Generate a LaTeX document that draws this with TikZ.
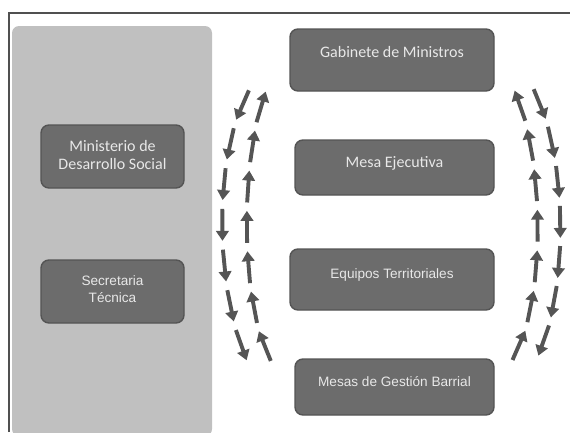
\documentclass[tikz,border=0pt]{standalone}
\usepackage{fontspec}
\setmainfont{Carlito}
\newfontfamily\arialfont{Liberation Sans}
\usetikzlibrary{arrows.meta,decorations.markings}
\definecolor{panelgray}{RGB}{192,192,192}
\definecolor{boxgray}{RGB}{108,108,108}
\definecolor{boxedge}{RGB}{84,84,84}
\definecolor{boxtxt}{RGB}{232,232,232}
\definecolor{arrgray}{RGB}{85,85,85}
\definecolor{framegray}{RGB}{80,80,80}
\tikzset{
  orgbox/.style={draw=boxedge, line width=1.4pt, fill=boxgray, rounded corners=8pt, inner sep=0pt},
  calibtext/.style={text=boxtxt, font=\fontsize{16}{18}\selectfont, align=center, inner sep=0pt},
  arialtext/.style={text=boxtxt, font=\arialfont\fontsize{13.6}{17}\selectfont, align=center, inner sep=0pt},
  flowarrow/.style={draw=arrgray, line width=3.9pt, -{Triangle[width=12.5pt,length=10pt]}},
  arrowtrain/.style={postaction={decorate}, decoration={markings,
     mark=between positions 0.0714 and 0.96 step 0.142857 with {\draw[flowarrow] (-16,0) -- (16,0);}}}
}
\begin{document}
\begin{tikzpicture}[x=1pt,y=-1pt]
\useasboundingbox (0,0) rectangle (570,432);
% frame
\draw[framegray, line width=2pt] (9,432) -- (9,12.5) -- (571,12.5);
% left panel
\fill[panelgray, rounded corners=7pt] (12,26) rectangle (212,436);
% boxes
\node[orgbox, minimum width=143pt, minimum height=63pt] (min) at (112.5,156.5) {};
\node[calibtext] (mintxt) at ([yshift=2pt]min.center) {Ministerio de\\Desarrollo Social};
\node[orgbox, minimum width=143pt, minimum height=63pt] (sec) at (112.5,291.5) {};
\node[arialtext] (sectxt) at ([yshift=2pt]sec.center) {Secretaria\\Técnica};
\node[orgbox, minimum width=204pt, minimum height=62pt] (gab) at (392,60) {};
\node[calibtext] (gabtxt) at ([yshift=8pt]gab.center) {Gabinete de Ministros};
\node[orgbox, minimum width=199pt, minimum height=55pt] (mesa) at (394.5,167.5) {};
\node[calibtext] (mesatxt) at ([yshift=4pt]mesa.center) {Mesa Ejecutiva};
\node[orgbox, minimum width=204pt, minimum height=61pt] (equ) at (392,279.5) {};
\node[arialtext] (equtxt) at ([yshift=5pt]equ.center) {Equipos Territoriales};
\node[orgbox, minimum width=199pt, minimum height=56pt] (mgb) at (394.5,387) {};
\node[arialtext] (mgbtxt) at ([yshift=5pt]mgb.center) {Mesas de Gestión Barrial};
% arrow trains
\coordinate (ldA) at (252,87);  \coordinate (ldB) at (249,364);
\coordinate (luA) at (274,364); \coordinate (luB) at (268,88);
\coordinate (ruA) at (509,363); \coordinate (ruB) at (512,87);
\coordinate (rdA) at (531,86);  \coordinate (rdB) at (536,359);
\path[arrowtrain] (ldA) .. controls (212,150) and (214,290) .. (ldB);
\path[arrowtrain] (luA) .. controls (238,310) and (240,150) .. (luB);
\path[arrowtrain] (ruA) .. controls (548,310) and (545,150) .. (ruB);
\path[arrowtrain] (rdA) .. controls (568,150) and (570,290) .. (rdB);
\end{tikzpicture}
\end{document}
